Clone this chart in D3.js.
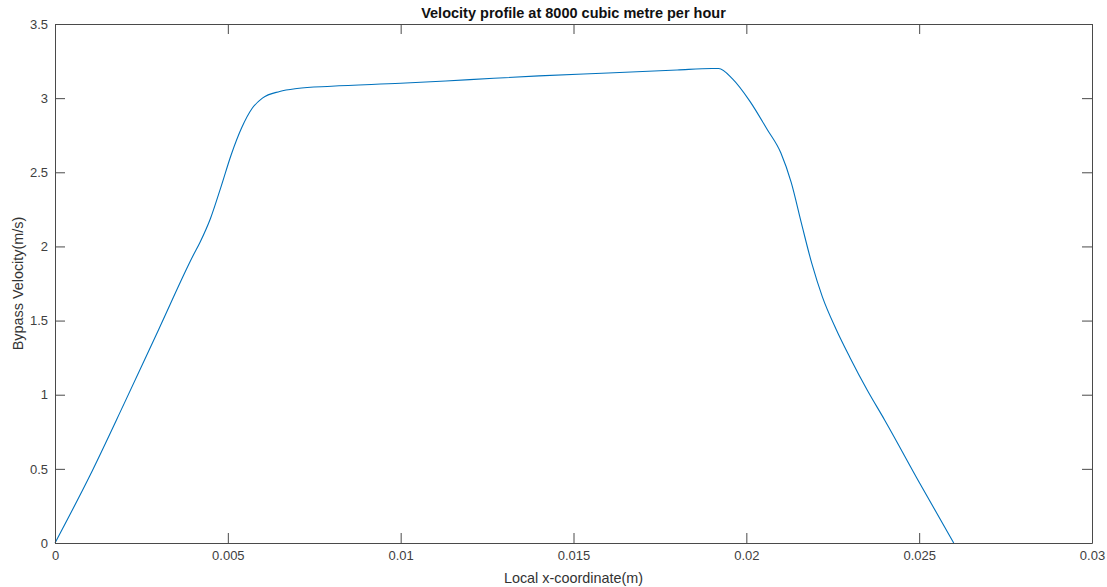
<!DOCTYPE html>
<html>
<head>
<meta charset="utf-8">
<script src="https://cdn.jsdelivr.net/npm/d3@7"></script>
<style>
  html, body { margin: 0; padding: 0; background: #fff; }
  svg { display: block; font-family: Helvetica, Arial, "Liberation Sans", sans-serif; }
</style>
</head>
<body>
<svg id="chart" width="1107" height="587"></svg>
<script>
// ---- 数据：读自原图 ----
const xPos = [0, 0.001, 0.002, 0.003, 0.004, 0.0042, 0.0045, 0.0048, 0.0051, 0.0054, 0.0057,
  0.006, 0.0065, 0.007, 0.008, 0.010, 0.012, 0.014, 0.016, 0.018, 0.019, 0.0192,
  0.0196, 0.0201, 0.0206, 0.0210, 0.0213, 0.0216, 0.0219, 0.0222, 0.0226, 0.023,
  0.0235, 0.024, 0.025, 0.026];
const velocity = [0, 0.45, 0.94, 1.44, 1.94, 2.03, 2.19, 2.40, 2.62, 2.80, 2.93,
  3.00, 3.045, 3.065, 3.08, 3.10, 3.125, 3.15, 3.17, 3.19, 3.20, 3.20,
  3.13, 2.98, 2.79, 2.63, 2.43, 2.15, 1.88, 1.66, 1.44, 1.25,
  1.03, 0.83, 0.41, 0];
const xTicks = [0, 0.005, 0.01, 0.015, 0.02, 0.025, 0.03];
const yTicks = [0, 0.5, 1, 1.5, 2, 2.5, 3, 3.5];
const titleText = "Velocity profile at 8000 cubic metre per hour";
const xLabel = "Local x-coordinate(m)";
const yLabel = "Bypass Velocity(m/s)";

const L = 55, R = 1092, T = 24, B = 543;
const svg = d3.select("#chart");
const x = d3.scaleLinear().domain([0, 0.03]).range([L, R]);
const y = d3.scaleLinear().domain([0, 3.5]).range([B, T]);
const axisCol = "#4a4a4a", tickLen = 10;

// 曲线
const pts = xPos.map((v, i) => [v, velocity[i]]);
svg.append("path").datum(pts)
  .attr("fill", "none").attr("stroke", "#0072BD").attr("stroke-width", 1.1)
  .attr("d", d3.line().x(d => x(d[0])).y(d => y(d[1])).curve(d3.curveMonotoneX));

// 坐标轴（MATLAB 风格：刻度朝内、四边带框）
const fmt = d => d === 0 ? "0" : String(d);
svg.append("g").attr("transform", `translate(0,${B})`)
  .call(d3.axisBottom(x).tickValues(xTicks).tickFormat(fmt).tickSizeInner(-tickLen).tickSizeOuter(0).tickPadding(8));
svg.append("g").attr("transform", `translate(0,${T})`)
  .call(d3.axisTop(x).tickValues(xTicks).tickFormat("").tickSizeInner(-tickLen).tickSizeOuter(0));
svg.append("g").attr("transform", `translate(${L},0)`)
  .call(d3.axisLeft(y).tickValues(yTicks).tickFormat(fmt).tickSizeInner(-tickLen).tickSizeOuter(0).tickPadding(7));
svg.append("g").attr("transform", `translate(${R},0)`)
  .call(d3.axisRight(y).tickValues(yTicks).tickFormat("").tickSizeInner(-tickLen).tickSizeOuter(0));
svg.selectAll(".domain, .tick line").attr("stroke", axisCol).attr("stroke-width", 1);
svg.selectAll(".tick text").attr("fill", "#404040").style("font-size", "13px");

// 标题与轴标签
svg.append("text").attr("x", (L + R) / 2).attr("y", 18).attr("text-anchor", "middle")
  .style("font-size", "14.5px").style("font-weight", "bold").attr("fill", "#111").text(titleText);
svg.append("text").attr("x", (L + R) / 2).attr("y", 583).attr("text-anchor", "middle")
  .style("font-size", "14.4px").attr("fill", "#333").text(xLabel);
svg.append("text").attr("transform", `translate(23,${(T + B) / 2}) rotate(-90)`)
  .attr("text-anchor", "middle").style("font-size", "14.4px").attr("fill", "#333").text(yLabel);
</script>
</body>
</html>
